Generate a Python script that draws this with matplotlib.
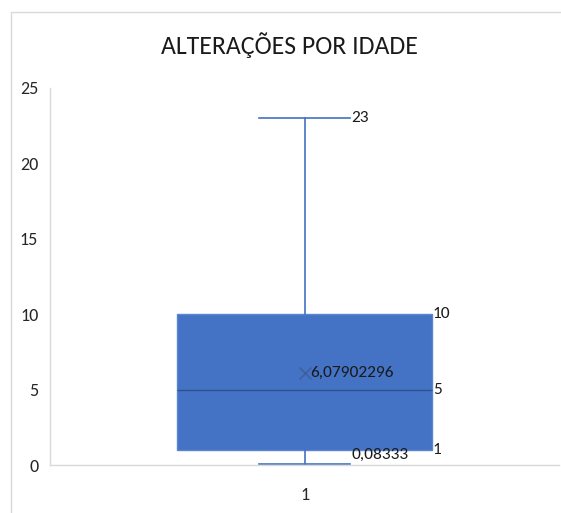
import matplotlib
matplotlib.use("Agg")
import matplotlib.pyplot as plt
from matplotlib.patches import Rectangle

# Summary statistics of the age distribution
category = "1"
minimum = 0.08333
q1 = 1
median = 5
q3 = 10
maximum = 23
mean = 6.07902296
y_ticks = [0, 5, 10, 15, 20, 25]

plt.rcParams['font.family'] = ['Carlito', 'DejaVu Sans']

fig = plt.figure(figsize=(5.61, 5.13), dpi=100)
fig.patch.set_facecolor("white")

# light chart frame
fig.patches.append(Rectangle((11 / 561, -0.1), 1.2, (1 - 12 / 513) + 0.1,
                             transform=fig.transFigure, fill=False,
                             edgecolor="#d9d9d9", linewidth=1.0))

ax = fig.add_axes([50 / 561, 1 - 465 / 513, 509 / 561, (465 - 88) / 513])

stats = [dict(med=median, q1=q1, q3=q3, whislo=minimum, whishi=maximum,
              mean=mean, label=category, fliers=[])]
ax.bxp(stats, positions=[1], widths=0.5, capwidths=0.18, patch_artist=True,
       showmeans=True, meanline=False,
       boxprops=dict(facecolor="#4472C4", edgecolor="#5b85cf", linewidth=1.0),
       medianprops=dict(color="#2F528F", linewidth=1.0),
       whiskerprops=dict(color="#4472C4", linewidth=1.2),
       capprops=dict(color="#4472C4", linewidth=1.2),
       meanprops=dict(marker="x", markeredgecolor="#3f5f98", markersize=9,
                      markeredgewidth=1.0))

ax.set_xlim(0.5, 1.5)
ax.set_ylim(0, 25)
ax.set_yticks(y_ticks)
ax.set_yticklabels([str(t) for t in y_ticks])
ax.tick_params(axis="both", length=0, labelsize=13, colors="#262626")
ax.tick_params(axis="y", pad=8.5)
ax.tick_params(axis="x", pad=16)

for side in ("top", "right"):
    ax.spines[side].set_visible(False)
for side in ("left", "bottom"):
    ax.spines[side].set_color("#d9d9d9")
    ax.spines[side].set_linewidth(1.0)

def dec(v, digits=None):
    s = f"{v:g}" if digits is None else f"{v:.{digits}f}"
    return s.replace(".", ",")

lab = dict(fontsize=12.5, color="#1a1a1a", va="center", ha="left")
cap_right = 1 + 0.09 + 0.002
box_right = 1.25 + 0.002
ax.text(cap_right, maximum, dec(maximum), **lab)
ax.text(box_right, q3, dec(q3), **lab)
ax.text(box_right, median, dec(median), **lab)
ax.text(box_right, q1, dec(q1), **lab)
ax.text(cap_right, minimum + 0.6, dec(minimum, 5), **lab)
ax.text(1.012, mean, dec(mean, 8), **lab)

fig.text(289 / 561, 1 - 45 / 513, "ALTERAÇÕES POR IDADE", ha="center",
         va="center", fontsize=18.5, color="#1a1a1a")

fig.savefig("out.png", dpi=100, facecolor="white")
